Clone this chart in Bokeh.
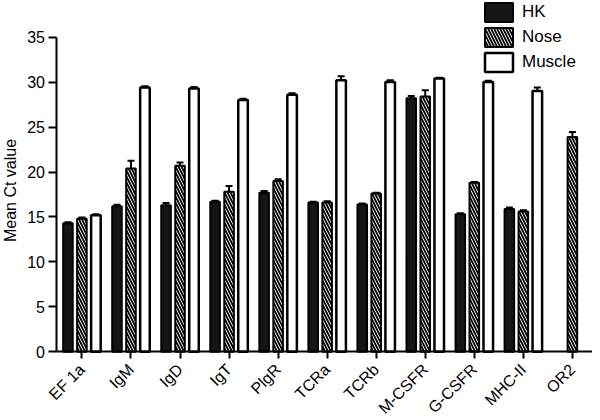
import numpy as np
from bokeh.plotting import figure
from bokeh.models import (ColumnDataSource, FixedTicker, Whisker, TeeHead,
                          Legend, LegendItem, Label)
from bokeh.embed import file_html
from bokeh.resources import INLINE

categories = ["EF 1a", "IgM", "IgD", "IgT", "PlgR", "TCRa", "TCRb",
              "M-CSFR", "G-CSFR", "MHC-II", "OR2"]
hk_mean = [14.3, 16.2, 16.3, 16.7, 17.7, 16.6, 16.4, 28.2, 15.3, 15.9, np.nan]
hk_err = [0.1, 0.15, 0.25, 0.1, 0.2, 0.1, 0.1, 0.25, 0.1, 0.15, np.nan]
nose_mean = [14.8, 20.4, 20.7, 17.8, 19.0, 16.6, 17.6, 28.4, 18.8, 15.6, 23.9]
nose_err = [0.15, 0.85, 0.35, 0.65, 0.2, 0.15, 0.1, 0.7, 0.1, 0.15, 0.55]
muscle_mean = [15.2, 29.4, 29.3, 28.0, 28.6, 30.2, 30.0, 30.4, 30.0, 29.0, np.nan]
muscle_err = [0.1, 0.15, 0.15, 0.15, 0.15, 0.45, 0.2, 0.1, 0.15, 0.4, np.nan]
y_ticks = [0, 5, 10, 15, 20, 25, 30, 35]
y_title = "Mean Ct value"

FONT = "Liberation Sans"
x = np.arange(len(categories))
offset = 0.285
bw = 0.195
X0, X1 = -0.509, 10.41      # extent of the drawn x axis
Y0, Y1 = 0, 35              # extent of the drawn y axis

p = figure(width=592, height=419, output_backend="svg", toolbar_location=None,
           x_range=(-1.660, X1), y_range=(-7.53, 39.08),
           min_border_left=0, min_border_right=0, min_border_top=0,
           min_border_bottom=0)
p.outline_line_color = None
p.xgrid.visible = False
p.ygrid.visible = False

def make_src(means, errs, dx):
    m = np.array(means, dtype=float)
    e = np.array(errs, dtype=float)
    keep = ~np.isnan(m)
    return ColumnDataSource(dict(x=(x + dx)[keep], top=m[keep],
                                 upper=(m + e)[keep]))

src_hk = make_src(hk_mean, hk_err, -offset)
src_nose = make_src(nose_mean, nose_err, 0.0)
src_mus = make_src(muscle_mean, muscle_err, offset)

for src in (src_hk, src_nose, src_mus):
    w = Whisker(source=src, base="x", upper="upper", lower="top",
                line_color="black", line_width=2,
                upper_head=TeeHead(size=7, line_width=2, line_color="black"),
                lower_head=None)
    p.add_layout(w)

r_hk = p.vbar(x="x", top="top", width=bw, source=src_hk, fill_color="#151515",
              line_color="black", line_width=2)
r_nose = p.vbar(x="x", top="top", width=bw, source=src_nose, fill_color="white",
                line_color="black", line_width=2, hatch_pattern="left_diagonal_line",
                hatch_color="black", hatch_weight=1.8, hatch_scale=6)
r_mus = p.vbar(x="x", top="top", width=bw, source=src_mus, fill_color="white",
               line_color="black", line_width=2.5)

legend = Legend(items=[LegendItem(label="HK", renderers=[r_hk]),
                       LegendItem(label="Nose", renderers=[r_nose]),
                       LegendItem(label="Muscle", renderers=[r_mus])],
                location=(481, 345), padding=0, margin=0, spacing=1,
                glyph_width=35, glyph_height=24, label_height=24,
                label_standoff=6, label_text_font=FONT,
                label_text_font_size="17px", label_text_color="black",
                border_line_color=None, background_fill_alpha=0)
p.add_layout(legend, "center")

p.yaxis.ticker = FixedTicker(ticks=y_ticks)
p.yaxis.bounds = (Y0, Y1)
p.yaxis.fixed_location = X0
p.xaxis.ticker = FixedTicker(ticks=list(x))
p.xaxis.bounds = (X0, X1)
p.xaxis.fixed_location = Y0
p.xaxis.major_label_overrides = {int(i): c for i, c in zip(x, categories)}
p.xaxis.major_label_orientation = np.pi / 4

for ax in (p.xaxis, p.yaxis):
    ax.axis_line_width = 2
    ax.axis_line_color = "black"
    ax.major_tick_line_width = 2
    ax.major_tick_line_color = "black"
    ax.major_tick_in = 0
    ax.minor_tick_line_color = None
    ax.major_label_text_font = FONT
    ax.major_label_text_font_size = "16px"
    ax.major_label_text_color = "black"

p.yaxis.major_tick_out = 8
p.yaxis.major_label_standoff = 4
p.xaxis.major_tick_out = 7
p.xaxis.major_label_standoff = 8

ylab = Label(x=10, y=229, x_units="screen", y_units="screen", text=y_title,
             angle=np.pi / 2, text_align="center", text_baseline="middle",
             text_font=FONT, text_font_size="16px", text_color="black")
p.add_layout(ylab)

open("out.html", "w").write(file_html(p, INLINE))
